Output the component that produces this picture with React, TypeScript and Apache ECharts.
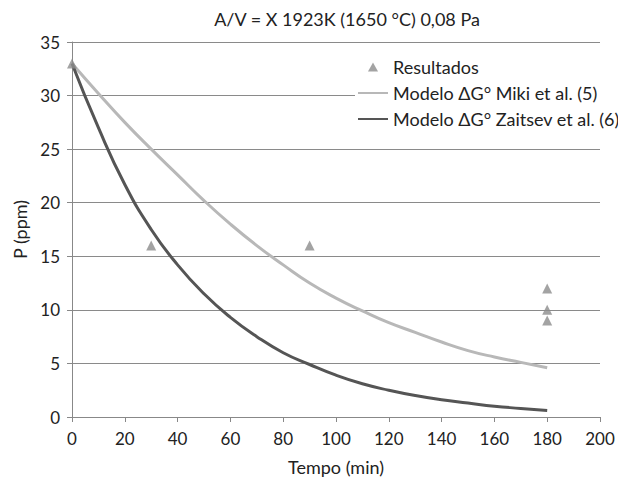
import React, { useEffect, useRef } from "react";
import * as echarts from "echarts";

const resultsX = [0, 30, 90, 180, 180, 180];
const resultsY = [33, 16, 16, 12, 10, 9];
const modelX = [0, 10, 20, 30, 40, 50, 60, 70, 80, 90, 100, 110, 120, 130, 140, 150, 160, 170, 180];
const mikiY = [33, 30.2, 27.5, 25.0, 22.6, 20.2, 18.0, 16.0, 14.2, 12.5, 11.1, 9.9, 8.8, 7.9, 7.0, 6.2, 5.6, 5.1, 4.6];
const zaitsevY = [33, 27, 21.7, 17.5, 14.2, 11.5, 9.3, 7.5, 6.0, 4.9, 3.9, 3.1, 2.5, 2.0, 1.6, 1.3, 1.0, 0.8, 0.6];

const FONT = "Lato";

export default function App() {
  const ref = useRef<HTMLDivElement>(null);
  useEffect(() => {
    if (!ref.current) return;
    const chart = echarts.init(ref.current, undefined, { renderer: "svg" });
    const pair = (xs: number[], ys: number[]) => xs.map((x, i) => [x, ys[i]]);
    chart.setOption({
      animation: false,
      backgroundColor: "#fff",
      textStyle: { fontFamily: FONT },
      title: {
        text: "A/V = X 1923K (1650 °C) 0,08 Pa",
        left: 342,
        top: 5,
        textAlign: "center",
        textStyle: { fontFamily: FONT, fontSize: 18, fontWeight: "normal", color: "#222" },
      },
      legend: {
        orient: "vertical",
        left: 355,
        top: 56,
        itemWidth: 30,
        itemHeight: 9,
        itemGap: 8,
        backgroundColor: "#fff",
        padding: [2, 0, 2, 2],
        textStyle: { fontFamily: FONT, fontSize: 18, color: "#222" },
        data: [
          { name: "Resultados", icon: "path://M5,0 L10,9 L0,9 Z", itemStyle: { color: "#8c8c8c" } },
          { name: "Modelo ΔG° Miki et al. (5)", itemStyle: { opacity: 0 } },
          { name: "Modelo ΔG° Zaitsev et al. (6)", itemStyle: { opacity: 0 } },
        ],
      },
      grid: { left: 72, right: 18, top: 42, bottom: 63, containLabel: false },
      xAxis: {
        type: "value",
        min: 0,
        max: 200,
        interval: 20,
        name: "Tempo (min)",
        nameLocation: "middle",
        nameGap: 41,
        nameTextStyle: { fontFamily: FONT, fontSize: 18, color: "#222" },
        axisLine: { show: true, lineStyle: { color: "#888", width: 1 } },
        axisTick: { show: true, length: 5, lineStyle: { color: "#888" } },
        axisLabel: { fontFamily: FONT, fontSize: 17, color: "#222", margin: 13 },
        splitLine: { show: false },
      },
      yAxis: {
        type: "value",
        min: 0,
        max: 35,
        interval: 5,
        name: "P (ppm)",
        nameLocation: "middle",
        nameGap: 40,
        nameRotate: 90,
        nameTextStyle: { fontFamily: FONT, fontSize: 18, color: "#222" },
        axisLine: { show: true, lineStyle: { color: "#888", width: 1 } },
        axisTick: { show: true, length: 5, lineStyle: { color: "#888" } },
        axisLabel: { fontFamily: FONT, fontSize: 17, color: "#222", margin: 12 },
        splitLine: { show: true, lineStyle: { color: "#8a8a8a", width: 1 } },
      },
      series: [
        {
          name: "Modelo ΔG° Miki et al. (5)",
          type: "line",
          data: pair(modelX, mikiY),
          smooth: true,
          showSymbol: false,
          symbol: "none",
          lineStyle: { color: "#b8b8b8", width: 3 },
          itemStyle: { color: "#b8b8b8" },
          z: 2,
        },
        {
          name: "Modelo ΔG° Zaitsev et al. (6)",
          type: "line",
          data: pair(modelX, zaitsevY),
          smooth: true,
          showSymbol: false,
          symbol: "none",
          lineStyle: { color: "#555", width: 3 },
          itemStyle: { color: "#555" },
          z: 3,
        },
        {
          name: "Resultados",
          type: "scatter",
          data: pair(resultsX, resultsY),
          symbol: "triangle",
          symbolSize: 10,
          itemStyle: { color: "#8c8c8c" },
          z: 4,
        },
      ],
    });
    return () => chart.dispose();
  }, []);
  return <div ref={ref} style={{ width: 618, height: 481, position: "absolute", left: 0, top: 0 }} />;
}
